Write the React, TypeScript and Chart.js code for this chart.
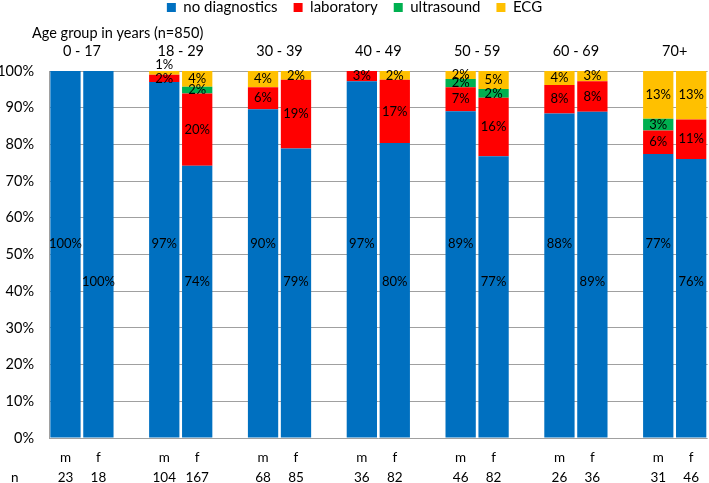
import React, { useEffect, useRef } from 'react';
import { Chart, registerables } from 'chart.js';

Chart.register(...registerables);

// ---- data ----
const ageGroups = ['0 - 17', '18 - 29', '30 - 39', '40 - 49', '50 - 59', '60 - 69', '70+'];
const sexLabels = ['m', 'f'];
const nValues = [23, 18, 104, 167, 68, 85, 36, 82, 46, 82, 26, 36, 31, 46];
const noDiagnostics = [100, 100, 97, 74.2, 89.6, 78.9, 97.2, 80.4, 89.0, 76.8, 88.4, 88.9, 77.4, 76.0];
const laboratory = [0, 0, 2, 19.7, 6.0, 18.7, 2.8, 17.2, 6.6, 15.9, 7.8, 8.3, 6.4, 10.8];
const ultrasound = [0, 0, 0, 1.8, 0, 0, 0, 0, 2.2, 2.4, 0, 0, 3.2, 0];
const ecg = [0, 0, 1, 4.3, 4.4, 2.4, 0, 2.4, 2.2, 4.9, 3.8, 2.8, 13.0, 13.2];
const seriesNames = ['no diagnostics', 'laboratory', 'ultrasound', 'ECG'];
const seriesColors = ['#0070C0', '#FF0000', '#00B050', '#FFC000'];
const yTicks = [0, 10, 20, 30, 40, 50, 60, 70, 80, 90, 100];
const titleText = 'Age group in years (n=850)';

// build slot layout: m, f, gap per group (no gap after last group)
type Slot = { group: number; sex: string | null; idx: number | null };
const slots: Slot[] = [];
ageGroups.forEach((_, g) => {
  sexLabels.forEach((s, k) => slots.push({ group: g, sex: s, idx: g * 2 + k }));
  if (g < ageGroups.length - 1) slots.push({ group: g, sex: null, idx: null });
});
const expand = (arr: number[]) => slots.map((s) => (s.idx === null ? null : arr[s.idx]));
const slotLabels = slots.map((s) => (s.idx === null ? ['', ''] : [s.sex as string, String(nValues[s.idx])]));

const FONT = 'Lato, "Liberation Sans", sans-serif';
const TEXT = '#000000';
const GRID = '#A0A0A0';
const LEGEND_PAD = 16;

const annotate = {
  id: 'annotate',
  beforeLayout(chart: any) {
    const legend = chart.legend;
    if (legend && !legend.__wrapped) {
      const fit = legend.fit.bind(legend);
      legend.fit = function () {
        fit();
        this.height = 71 + LEGEND_PAD;
      };
      legend.__wrapped = true;
    }
  },
  afterDatasetsDraw(chart: any) {
    const ctx = chart.ctx;
    const yScale = chart.scales.y;
    ctx.save();
    ctx.font = `13px ${FONT}`;
    ctx.fillStyle = TEXT;
    ctx.textAlign = 'center';
    ctx.textBaseline = 'middle';
    slots.forEach((s, i) => {
      if (s.idx === null) return;
      let prevY: number | undefined;
      chart.data.datasets.forEach((ds: any, d: number) => {
        const v = ds.data[i];
        if (!v) return;
        const el = chart.getDatasetMeta(d).data[i];
        let y: number;
        if (d === 0) {
          y = yScale.getPixelForValue(s.sex === 'm' ? 52.8 : 42.5);
        } else {
          y = (el.y + el.base) / 2;
          if (prevY !== undefined && prevY - y < 8) y = prevY - 14;
          prevY = y;
        }
        ctx.fillText(Math.round(v) + '%', el.x, y);
      });
    });
    ctx.restore();
  },
  afterDraw(chart: any) {
    const ctx = chart.ctx;
    const area = chart.chartArea;
    const xScale = chart.scales.x;
    ctx.save();
    ctx.fillStyle = TEXT;
    ctx.textBaseline = 'middle';
    ctx.font = `14.5px ${FONT}`;
    ctx.textAlign = 'left';
    ctx.fillText(titleText, 32, area.top - 38);
    ctx.font = `13.5px ${FONT}`;
    ctx.fillText('n', 11, area.bottom + 40);
    ctx.font = `14.5px ${FONT}`;
    ctx.textAlign = 'center';
    ageGroups.forEach((g, gi) => {
      const idxs = slots.map((s, i) => (s.group === gi && s.idx !== null ? i : -1)).filter((i) => i >= 0);
      const xs = idxs.map((i) => xScale.getPixelForValue(i));
      const cx = xs.reduce((a, b) => a + b, 0) / xs.length;
      ctx.fillText(g, cx, area.top - 20);
    });
    ctx.restore();
  },
};

export default function App() {
  const ref = useRef<HTMLCanvasElement>(null);
  useEffect(() => {
    document.body.style.margin = '0';
    const canvas = ref.current;
    if (!canvas) return;
    const series = [noDiagnostics, laboratory, ultrasound, ecg];
    const chart = new Chart(canvas, {
      type: 'bar',
      data: {
        labels: slotLabels,
        datasets: series.map((arr, k) => ({
          label: seriesNames[k],
          data: expand(arr),
          backgroundColor: seriesColors[k],
          borderWidth: 0,
          barPercentage: 0.92,
          categoryPercentage: 1.0,
        })),
      },
      options: {
        animation: false,
        responsive: false,
        devicePixelRatio: 1,
        layout: { padding: { top: -LEGEND_PAD, left: 0, right: 0, bottom: 0 } },
        plugins: {
          legend: {
            display: true,
            position: 'top',
            align: 'center',
            labels: {
              boxWidth: 9,
              boxHeight: 9,
              padding: LEGEND_PAD,
              color: TEXT,
              font: { family: FONT, size: 15 },
              generateLabels: (chart: any) =>
                Chart.defaults.plugins.legend.labels.generateLabels(chart).map((l: any) => ({ ...l, lineWidth: 0 })),
            },
          },
          tooltip: { enabled: false },
          title: { display: false },
        },
        scales: {
          x: {
            stacked: true,
            grid: { display: false, drawTicks: false },
            border: { display: false },
            ticks: {
              color: TEXT,
              font: { family: FONT, size: 13.5, lineHeight: 20 / 13.5 },
              padding: 10,
              maxRotation: 0,
              autoSkip: false,
            },
            afterFit: (scale: any) => {
              scale.height = 45;
            },
          },
          y: {
            stacked: true,
            min: 0,
            max: 100,
            afterBuildTicks: (scale: any) => {
              scale.ticks = yTicks.map((v) => ({ value: v }));
            },
            grid: { color: GRID, lineWidth: 1, drawTicks: false },
            border: { display: true, color: GRID, width: 1 },
            ticks: {
              color: TEXT,
              font: { family: FONT, size: 14.5 },
              padding: 15,
              callback: (v: any) => v + '%',
            },
            afterFit: (scale: any) => {
              scale.width = 49;
            },
          },
        },
      },
      plugins: [annotate],
    } as any);
    return () => chart.destroy();
  }, []);
  return (
    <div style={{ width: 709, height: 483 }}>
      <canvas ref={ref} width={709} height={483} />
    </div>
  );
}
